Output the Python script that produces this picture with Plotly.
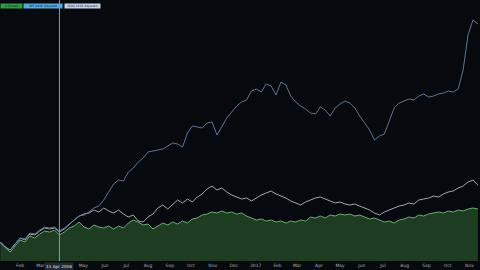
import pandas as pd
import plotly.graph_objects as go

# weekly closes, % change vs. start
dates = pd.date_range("2016-01-04", periods=98, freq="7D")

main_pct = [-5.5, -8, -10, -7, -4, -5, -2, -3, -1, 0.5, 0, 1, -1.5, 0, 2, 3, 5, 2.5, 1.5, 3.5,
            2.5, 2, 3, 1.5, 3, 2, 4.5, 6, 5, 3.5, 4, 1.5, 3, 4.5, 3.5, 5, 4, 5.5, 4.5, 6.5,
            7, 8.5, 9, 10, 9.5, 10.5, 9.5, 10, 9, 9.5, 8, 7, 6, 6.5, 5.5, 6, 5, 5.5, 4.5, 5.5,
            5, 6, 5.5, 7.5, 7, 8, 7, 8.5, 8, 9, 8.5, 9, 8, 8.5, 7.5, 6.5, 7, 6, 5, 5.5,
            4.5, 6, 6.5, 7.5, 7, 8.5, 8, 9, 9.5, 10, 9.5, 10.5, 10, 11, 10.5, 11.5, 12, 11.5]

comp1_pct = [-5, -7.5, -9, -6, -3, -4, -1, -1.5, 0.5, 2, 1.5, 2, 0, 1.5, 4, 6, 8, 9, 9.5, 11,
             10, 12, 10.5, 9.5, 11, 9, 7.5, 8.5, 5.5, 5, 7.5, 9, 12, 13.5, 11.5, 14, 16, 14.5, 16.5, 15,
             17.5, 19, 21.5, 23, 21, 22, 20, 18.5, 17.5, 16.5, 17, 15.5, 17, 18.5, 19.5, 20.5, 19, 18, 17, 15.5,
             14.5, 13.5, 15, 16, 17, 17.5, 16.5, 15.5, 14.5, 15, 14, 13.5, 14, 13, 12, 11, 9.5, 8.5, 10, 11,
             12, 13, 13.5, 14.5, 14, 16, 16.5, 17, 18, 17.5, 19, 20, 20.5, 22, 23, 25, 26, 23.5]

comp2_pct = [-5, -7.5, -9, -6, -3, -3.5, -0.5, -1, 1, 2.5, 2, 2.5, 0.5, 2, 4, 6, 8, 8.5, 10, 12,
             13, 16, 20, 24, 26, 25.5, 30, 32, 35, 37, 40, 40.5, 41, 41.5, 43, 44.5, 44, 42.5, 49.5, 53,
             52.5, 52, 54.5, 55, 48.5, 53, 57, 60, 63, 65, 66, 70.5, 71.5, 70, 74, 73, 68.5, 75, 73.5, 68,
             65, 63, 61.5, 59.5, 59, 62.5, 61, 58, 62, 64, 65.5, 64.5, 62, 58, 54.5, 51, 46, 48, 49, 56,
             62, 64.5, 65.5, 66.5, 66, 68, 69, 67.5, 68, 69, 69.5, 70.5, 70, 71.5, 81, 98.5, 106, 104]

legend_labels = ["X (Close)", "SPY 2016 Adjusted", "QQQ 2016 Adjusted"]

tick_dates = ["2016-02-01", "2016-03-01", "2016-05-01", "2016-06-01", "2016-07-01", "2016-08-01",
              "2016-09-01", "2016-10-01", "2016-11-01", "2016-12-01", "2017-01-01", "2017-02-01",
              "2017-03-01", "2017-04-01", "2017-05-01", "2017-06-01", "2017-07-01", "2017-08-01",
              "2017-09-01", "2017-10-01", "2017-11-01"]
tick_text = ["Feb", "Mar", "May", "Jun", "Jul", "Aug", "Sep", "Oct", "Nov", "Dec", "2017", "Feb",
             "Mar", "Apr", "May", "Jun", "Jul", "Aug", "Sep", "Oct", "Nov"]

crosshair_date = "2016-03-28"
crosshair_label = "11 Apr 2016"

Y_RANGE = [-14.5, 116]
BG = "#06090d"

fig = go.Figure()
fig.add_trace(go.Scatter(x=dates, y=[Y_RANGE[0]] * len(dates), mode="lines",
                         line=dict(width=0), hoverinfo="skip", showlegend=False))
fig.add_trace(go.Scatter(x=dates, y=main_pct, mode="lines", fill="tonexty",
                         fillcolor="#1d3c22", line=dict(color="#74bb7a", width=0.9),
                         showlegend=False))
fig.add_trace(go.Scatter(x=dates, y=comp1_pct, mode="lines",
                         line=dict(color="#b3b9c1", width=0.9), showlegend=False))
fig.add_trace(go.Scatter(x=dates, y=comp2_pct, mode="lines",
                         line=dict(color="#66819f", width=0.9), showlegend=False))

fig.add_vline(x=crosshair_date, line=dict(color="#8f99a3", width=1))

fig.update_layout(
    width=480, height=270,
    margin=dict(l=0, r=0, t=0, b=9),
    paper_bgcolor=BG, plot_bgcolor=BG,
    showlegend=False,
    xaxis=dict(type="date", range=["2016-01-03 12:00", "2017-11-16"], showgrid=False,
               zeroline=False, showline=False, ticks="", tickvals=tick_dates, ticktext=tick_text,
               tickfont=dict(family="DejaVu Sans", size=4.5, color="#aab0b8"), tickangle=0),
    yaxis=dict(visible=False, range=Y_RANGE, showgrid=False, zeroline=False),
)

# crosshair date label
fig.add_annotation(x=crosshair_date, y=0, xref="x", yref="paper", yanchor="top", yshift=-1,
                   text=crosshair_label, showarrow=False, bgcolor="#1f2833",
                   font=dict(family="DejaVu Sans", size=4.2, color="#e6e9ec"), borderpad=1)

# legend chips
chips = [(0, 21, "#2f9a46", "#0b1a0e"), (23, 61, "#55a9db", "#0a1a26"), (64, 99, "#c4d4e4", "#1a2028")]
for (x0, x1, bg, fg), lab in zip(chips, legend_labels):
    fig.add_annotation(x=x0 / 480, y=1 - 6.5 / 261, xref="paper", yref="paper",
                       xanchor="left", yanchor="middle", text=lab, showarrow=False,
                       width=x1 - x0, height=4, bgcolor=bg, borderpad=0,
                       font=dict(family="DejaVu Sans", size=3, color=fg))

fig.write_html("out.html", config={"displayModeBar": False})
